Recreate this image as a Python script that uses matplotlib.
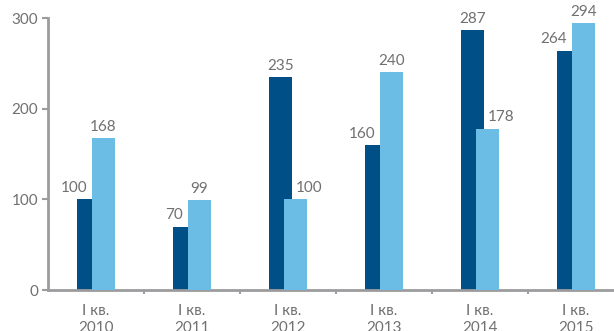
import matplotlib
matplotlib.use("Agg")
import matplotlib.pyplot as plt
import numpy as np

categories = ["I кв.\n2010", "I кв.\n2011", "I кв.\n2012", "I кв.\n2013", "I кв.\n2014", "I кв.\n2015"]
series_dark = [100, 70, 235, 160, 287, 264]
series_light = [168, 99, 100, 240, 178, 294]
yticks = [0, 100, 200, 300]

plt.rcParams['font.family'] = ['Lato', 'DejaVu Sans']

DARK = "#004f87"
LIGHT = "#6bbde6"
TXT = "#707070"
AX = "#9c9c9e"

fig = plt.figure(figsize=(6.14, 3.31), dpi=100)
W, H = 614, 331
ax = fig.add_axes([48 / W, 41 / H, (W - 48) / W, 272 / H])

x = np.arange(len(categories))
bw = 0.24
off = 0.078
ax.bar(x - off, series_dark, bw, color=DARK, zorder=2)
ax.bar(x + off, series_light, bw, color=LIGHT, zorder=3)

fs = 11
for i, (d, l) in enumerate(zip(series_dark, series_light)):
    if d < l:
        ax.annotate(str(d), (x[i] + off - bw / 2, d), xytext=(-3.5, 3), textcoords="offset points",
                    ha="right", va="bottom", fontsize=fs, color=TXT)
        ax.annotate(str(l), (x[i] + off, l), xytext=(0, 3), textcoords="offset points",
                    ha="center", va="bottom", fontsize=fs, color=TXT)
    else:
        ax.annotate(str(d), (x[i] - off, d), xytext=(0, 3), textcoords="offset points",
                    ha="center", va="bottom", fontsize=fs, color=TXT)
        ax.annotate(str(l), (x[i] - off + bw / 2, l), xytext=(3, 3), textcoords="offset points",
                    ha="left", va="bottom", fontsize=fs, color=TXT)

ax.set_xlim(-0.5, -0.5 + (W - 48) / 96)
ax.set_ylim(0, 300)
ax.set_yticks(yticks)
ax.set_yticklabels([str(v) for v in yticks])
ax.set_xticks(x)
ax.set_xticklabels(categories)
ax.set_xticks(x[:-1] + 0.5, minor=True)

for s in ["top", "right"]:
    ax.spines[s].set_visible(False)
for s in ["left", "bottom"]:
    ax.spines[s].set_color(AX)
    ax.spines[s].set_linewidth(2)

ax.tick_params(axis="y", length=4, width=1.5, color=AX, labelcolor=TXT, labelsize=fs, pad=3)
ax.tick_params(axis="x", which="major", length=0, labelcolor=TXT, labelsize=fs, pad=10)
ax.tick_params(axis="x", which="minor", length=3, width=1.5, color=AX)
for t in ax.get_xticklabels():
    t.set_linespacing(1.25)

fig.savefig("out.png", dpi=100)
